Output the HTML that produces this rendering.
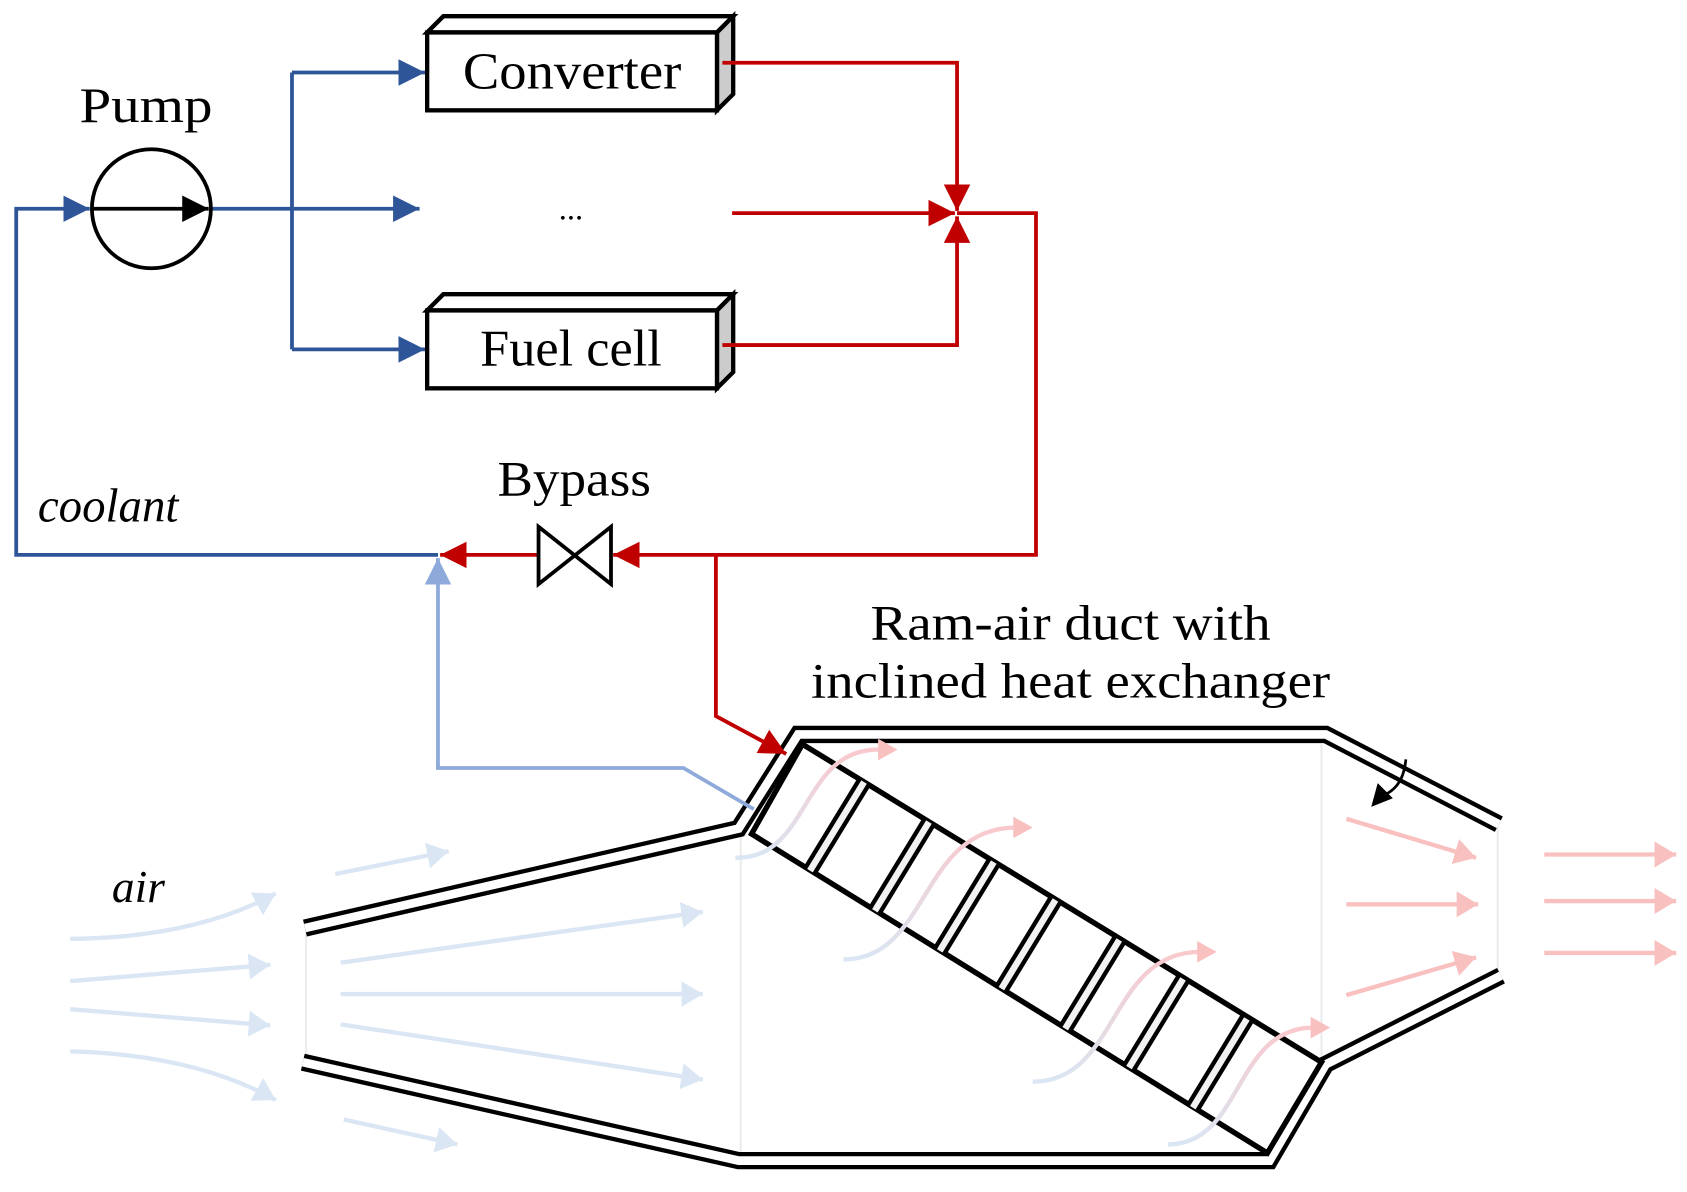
<!DOCTYPE html>
<html><head><meta charset="utf-8"><style>html,body{margin:0;padding:0;background:#fff}svg{display:block}</style></head>
<body>
<svg width="1687" height="1192" viewBox="0 0 1560 1102" preserveAspectRatio="none" xmlns="http://www.w3.org/2000/svg">
<defs>
<marker id="ab" markerWidth="8" markerHeight="8" refX="7" refY="4" orient="auto" markerUnits="strokeWidth"><path d="M0,0.5 L7,4 L0,7.5z" fill="#2e5597"/></marker>
<marker id="ar" markerWidth="8" markerHeight="8" refX="7" refY="4" orient="auto" markerUnits="strokeWidth"><path d="M0,0.5 L7,4 L0,7.5z" fill="#c00000"/></marker>
<marker id="al" markerWidth="8" markerHeight="8" refX="7" refY="4" orient="auto" markerUnits="strokeWidth"><path d="M0,0.5 L7,4 L0,7.5z" fill="#8eaadb"/></marker>
<marker id="ak" markerWidth="8" markerHeight="8" refX="7" refY="4" orient="auto" markerUnits="strokeWidth"><path d="M0,0.5 L7,4 L0,7.5z" fill="#000"/></marker>
<marker id="ac" markerWidth="6" markerHeight="6" refX="5" refY="3" orient="auto" markerUnits="strokeWidth"><path d="M0,0 L5,3 L0,6z" fill="#dae6f3"/></marker>
<marker id="ap" markerWidth="6" markerHeight="6" refX="5" refY="3" orient="auto" markerUnits="strokeWidth"><path d="M0,0 L5,3 L0,6z" fill="#f9c0c0"/></marker>
<linearGradient id="g" x1="0" y1="1" x2="0" y2="0"><stop offset="0" stop-color="#dae6f3"/><stop offset="1" stop-color="#f9c8cc"/></linearGradient>
</defs>
<g font-family="'Liberation Serif',serif" fill="#000" text-anchor="middle">
<g stroke="#ececec" stroke-width="2">
<line x1="283" y1="860" x2="283" y2="980"/><line x1="685" y1="770" x2="685" y2="1070"/><line x1="1222" y1="688" x2="1222" y2="980"/><line x1="1385" y1="765" x2="1385" y2="900"/>
</g>
<g stroke="#dae6f3" stroke-width="4" fill="none" marker-end="url(#ac)">
<path d="M310,808 L415,787"/><path d="M65,868 Q180,867 255,826"/><path d="M65,907 L250,892"/><path d="M65,933 L250,948"/><path d="M65,972 Q180,975 255,1017"/><path d="M318,1035 L423,1058"/><path d="M315,890 L650,843"/><path d="M315,919 L650,919"/><path d="M315,947 L650,998"/>
</g>
<g stroke="#f9c0c0" stroke-width="4" fill="none" marker-end="url(#ap)">
<path d="M1245,757 L1365,793"/><path d="M1245,836 L1367,836"/><path d="M1245,920 L1365,885"/><path d="M1428,790 L1550,790"/><path d="M1428,833 L1550,833"/><path d="M1428,881 L1550,881"/>
</g>
<g fill="none" stroke-linejoin="miter">
<g stroke="#000" stroke-width="16">
<polyline points="282,858 683,766 738,679 1226,679 1386,762"/>
<polyline points="280,982 683,1073 1174,1073 1226,984 1388,902"/>
</g>
<g stroke="#fff" stroke-width="8">
<polyline points="282,858 683,766 738,679 1226,679 1386,762"/>
<polyline points="280,982 683,1073 1174,1073 1226,984 1388,902"/>
</g>
</g>
<polygon points="742,688 1222,982 1172,1066 695,771" fill="#fff" stroke="#000" stroke-width="5"/>
<g stroke="#000" stroke-width="14">
<line x1="799" y1="723" x2="749" y2="805"/><line x1="859" y1="760" x2="809" y2="842"/><line x1="919" y1="797" x2="869" y2="879"/><line x1="976" y1="832" x2="926" y2="914"/><line x1="1035" y1="869" x2="985" y2="951"/><line x1="1094" y1="905" x2="1044" y2="987"/><line x1="1153" y1="942" x2="1103" y2="1024"/>
</g>
<g stroke="#f2f2f2" stroke-width="6">
<line x1="799" y1="723" x2="749" y2="805"/><line x1="859" y1="760" x2="809" y2="842"/><line x1="919" y1="797" x2="869" y2="879"/><line x1="976" y1="832" x2="926" y2="914"/><line x1="1035" y1="869" x2="985" y2="951"/><line x1="1094" y1="905" x2="1044" y2="987"/><line x1="1153" y1="942" x2="1103" y2="1024"/>
</g>
<g stroke="url(#g)" stroke-width="4" fill="none">
<path d="M680,793 C750,795 740,690 815,693"/><path d="M780,887 C860,887 850,765 940,765"/><path d="M955,1000 C1035,1000 1025,880 1110,880"/><path d="M1080,1058 C1150,1058 1140,950 1215,950"/>
</g>
<g fill="#f9c0c0"><path d="M812,683 L830,693 L812,703z"/><path d="M937,755 L955,765 L937,775z"/><path d="M1107,870 L1125,880 L1107,890z"/><path d="M1212,940 L1230,950 L1212,960z"/></g>
<path d="M1300,702 Q1298,727 1280,735" stroke="#000" stroke-width="2.5" fill="none"/>
<path d="M1268,746 L1274,724 L1288,738z" fill="#000"/>
<g stroke="#000" stroke-width="4" stroke-linejoin="miter">
<polygon points="395,30 410,15 678,15 663,30" fill="#fff"/><polygon points="663,30 678,15 678,87 663,102" fill="#ccc"/><rect x="395" y="30" width="268" height="72" fill="#fff"/>
<polygon points="395,287 410,272 678,272 663,287" fill="#fff"/><polygon points="663,287 678,272 678,344 663,359" fill="#ccc"/><rect x="395" y="287" width="268" height="72" fill="#fff"/>
</g>
<text x="529" y="82" font-size="48" textLength="202" lengthAdjust="spacingAndGlyphs">Converter</text>
<text x="528" y="338" font-size="48" textLength="168" lengthAdjust="spacingAndGlyphs">Fuel cell</text>
<text x="528" y="203" font-size="30">...</text>
<text x="135" y="113" font-size="46" textLength="123" lengthAdjust="spacingAndGlyphs">Pump</text>
<text x="531" y="458" font-size="46" textLength="142" lengthAdjust="spacingAndGlyphs">Bypass</text>
<text x="100" y="482" font-size="44" font-style="italic" textLength="130" lengthAdjust="spacingAndGlyphs">coolant</text>
<text x="128" y="834" font-size="42" font-style="italic" textLength="49" lengthAdjust="spacingAndGlyphs">air</text>
<text x="990" y="591" font-size="46" textLength="370" lengthAdjust="spacingAndGlyphs">Ram-air duct with</text>
<text x="990" y="645" font-size="46" textLength="480" lengthAdjust="spacingAndGlyphs">inclined heat exchanger</text>
<g stroke="#2e5597" stroke-width="3.5" fill="none">
<polyline points="405,513 15,513 15,193 83,193" marker-end="url(#ab)"/>
<line x1="195" y1="193" x2="388" y2="193" marker-end="url(#ab)"/>
<line x1="270" y1="67" x2="270" y2="323"/>
<line x1="270" y1="67" x2="393" y2="67" marker-end="url(#ab)"/>
<line x1="270" y1="323" x2="393" y2="323" marker-end="url(#ab)"/>
</g>
<circle cx="140" cy="193" r="55" fill="none" stroke="#000" stroke-width="3.5"/>
<line x1="85" y1="193" x2="193" y2="193" stroke="#000" stroke-width="3.5" marker-end="url(#ak)"/>
<polyline points="697,748 632,710 405,710 405,516" fill="none" stroke="#8eaadb" stroke-width="3.5" marker-end="url(#al)"/>
<g stroke="#c00000" stroke-width="3.5" fill="none">
<polyline points="668,58 885,58 885,195" marker-end="url(#ar)"/>
<line x1="677" y1="197" x2="883" y2="197" marker-end="url(#ar)"/>
<polyline points="668,319 885,319 885,200" marker-end="url(#ar)"/>
<polyline points="885,197 958,197 958,513 567,513" marker-end="url(#ar)"/>
<line x1="498" y1="513" x2="407" y2="513" marker-end="url(#ar)"/>
<polyline points="662,513 662,662 727,697" marker-end="url(#ar)"/>
</g>
<path d="M498,487 L565,540 L565,487 L498,540z" fill="#fff" stroke="#000" stroke-width="3.5"/>
</g>
</svg>
</body></html>
